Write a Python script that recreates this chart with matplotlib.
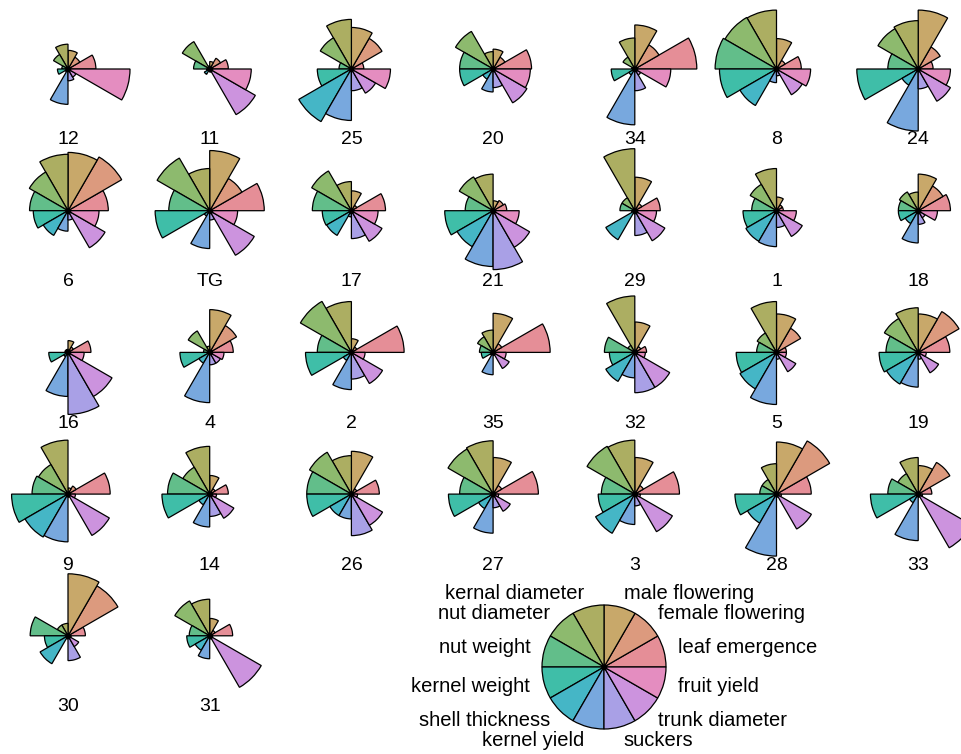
import numpy as np
import matplotlib.pyplot as plt
from matplotlib.patches import Wedge

# accessions, in plotting order (sorted by fruit yield)
accessions = ['12', '11', '25', '20', '34', '8', '24',
              '6', 'TG', '17', '21', '29', '1', '18',
              '16', '4', '2', '35', '32', '5', '19',
              '9', '14', '26', '27', '3', '28', '33',
              '30', '31']

# traits, counter-clockwise from 0 degrees
traits = ['leaf emergence', 'female flowering', 'male flowering',
          'kernal diameter', 'nut diameter', 'nut weight',
          'kernel weight', 'shell thickness', 'kernel yield',
          'suckers', 'trunk diameter', 'fruit yield']

# scaled trait values (0-1), one entry per accession
leaf_emergence = [0.45, 0.30, 0.20, 0.62, 1.00, 0.40, 0.24, 0.65, 0.88, 0.55, 0.22, 0.41, 0.11, 0.52, 0.37,
                  0.38, 0.85, 0.92, 0.19, 0.16, 0.51, 0.68, 0.30, 0.45, 0.73, 0.72, 0.56, 0.22, 0.28, 0.37]
female_flowering = [0.22, 0.20, 0.57, 0.22, 0.45, 0.16, 0.41, 1.00, 0.60, 0.10, 0.19, 0.13, 0.11, 0.46, 0.10,
                    0.50, 0.10, 0.16, 0.11, 0.45, 0.76, 0.15, 0.10, 0.10, 0.16, 0.16, 0.99, 0.59, 0.93, 0.10]
male_flowering = [0.30, 0.12, 0.67, 0.32, 0.71, 0.49, 0.95, 0.94, 0.97, 0.32, 0.16, 0.54, 0.22, 0.59, 0.19,
                  0.69, 0.22, 0.63, 0.49, 0.62, 0.62, 0.10, 0.30, 0.69, 0.59, 0.59, 0.84, 0.46, 1.00, 0.28]
kernal_diameter = [0.40, 0.05, 0.80, 0.28, 0.50, 0.95, 0.78, 0.91, 0.68, 0.47, 0.59, 1.00, 0.68, 0.30, 0.05,
                   0.10, 0.82, 0.36, 0.91, 0.82, 0.72, 0.87, 0.77, 0.62, 0.86, 0.87, 0.49, 0.59, 0.20, 0.59]
nut_diameter = [0.27, 0.51, 0.58, 0.70, 0.22, 0.96, 0.75, 0.72, 0.98, 0.74, 0.63, 0.24, 0.49, 0.35, 0.05,
                0.40, 0.95, 0.29, 0.13, 0.36, 0.63, 0.55, 0.50, 0.78, 0.84, 0.89, 0.27, 0.38, 0.20, 0.65]
nut_weight = [0.10, 0.26, 0.20, 0.54, 0.05, 0.99, 0.49, 0.62, 0.66, 0.63, 0.45, 0.24, 0.40, 0.32, 0.05,
              0.10, 0.55, 0.22, 0.49, 0.32, 0.52, 0.58, 0.68, 0.72, 0.54, 0.54, 0.27, 0.49, 0.61, 0.33]
kernel_weight = [0.17, 0.05, 0.55, 0.54, 0.38, 0.92, 0.99, 0.56, 0.88, 0.47, 0.78, 0.05, 0.54, 0.32, 0.31,
                 0.48, 0.74, 0.19, 0.41, 0.65, 0.63, 0.91, 0.77, 0.72, 0.72, 0.59, 0.67, 0.77, 0.38, 0.37]
shell_thickness = [0.05, 0.10, 0.98, 0.19, 0.11, 0.68, 0.30, 0.46, 0.10, 0.46, 0.67, 0.54, 0.57, 0.24, 0.08,
                   0.20, 0.15, 0.05, 0.54, 0.68, 0.59, 0.80, 0.20, 0.40, 0.27, 0.73, 0.54, 0.16, 0.52, 0.27]
kernel_yield = [0.57, 0.03, 0.83, 0.37, 0.90, 0.22, 1.00, 0.33, 0.61, 0.10, 0.90, 0.05, 0.58, 0.52, 0.71,
                0.81, 0.60, 0.36, 0.41, 0.84, 0.56, 0.77, 0.53, 0.40, 0.63, 0.49, 1.00, 0.75, 0.05, 0.37]
suckers = [0.19, 0.05, 0.35, 0.30, 0.35, 0.11, 0.32, 0.15, 0.15, 0.45, 0.95, 0.40, 0.27, 0.22, 1.00,
           0.20, 0.43, 0.05, 0.65, 0.11, 0.11, 0.05, 0.36, 0.67, 0.22, 0.19, 0.05, 0.05, 0.40, 0.05]
trunk_diameter = [0.15, 0.85, 0.45, 0.63, 0.11, 0.48, 0.60, 0.69, 0.83, 0.57, 0.68, 0.56, 0.48, 0.13, 0.82,
                  0.20, 0.58, 0.30, 0.65, 0.36, 0.38, 0.77, 0.45, 0.58, 0.32, 0.70, 0.65, 1.00, 0.20, 0.96]
fruit_yield = [1.00, 0.67, 0.63, 0.60, 0.58, 0.55, 0.52, 0.50, 0.45, 0.43, 0.42, 0.35, 0.32, 0.31, 0.26,
               0.23, 0.22, 0.21, 0.17, 0.16, 0.13, 0.12, 0.11, 0.10, 0.09, 0.09, 0.08, 0.07, 0.05, 0.03]

colours = ['#E58E97', '#DC9A7E', '#C8A86A', '#ACAE62', '#8DBA6E', '#62BE8A',
           '#3FBEA8', '#45B6C6', '#78A8DE', '#A9A0E6', '#CC93DE', '#E48DC0']

values = np.column_stack([leaf_emergence, female_flowering, male_flowering, kernal_diameter,
                          nut_diameter, nut_weight, kernel_weight, shell_thickness,
                          kernel_yield, suckers, trunk_diameter, fruit_yield])

plt.rcParams['font.family'] = ['Liberation Sans', 'DejaVu Sans']

W, H = 962, 754
fig = plt.figure(figsize=(W / 100, H / 100), dpi=100)
ax = fig.add_axes([0, 0, 1, 1])
ax.set_xlim(0, W)
ax.set_ylim(0, H)
ax.set_aspect('equal')
ax.axis('off')

R = 62          # radius of a full segment
step = 360 / len(traits)


def draw_star(cx, cy, vals):
    for k, v in enumerate(vals):
        ax.add_patch(Wedge((cx, cy), R * v, k * step, (k + 1) * step,
                           facecolor=colours[k], edgecolor='black', linewidth=0.9))
    ax.plot(cx, cy, 'o', color='black', ms=3)


# 7 stars per row
ncol = 7
for i, name in enumerate(accessions):
    row, col = divmod(i, ncol)
    cx = 68 + col * 141.7
    cy = H - (69 + row * 141.7)
    draw_star(cx, cy, values[i])
    ax.text(cx, cy - 71, name, ha='center', va='center', fontsize=14)

# key
kx, ky = 604, H - 667
draw_star(kx, ky, np.ones(len(traits)))
for k, t in enumerate(traits):
    a = np.deg2rad((k + 0.5) * step)
    tx = kx + 1.23 * R * np.cos(a)
    ty = ky + 1.23 * R * np.sin(a)
    ax.text(tx, ty, t, ha='left' if np.cos(a) > 0 else 'right', va='center', fontsize=14.5)

plt.savefig('out.png', dpi=100)
